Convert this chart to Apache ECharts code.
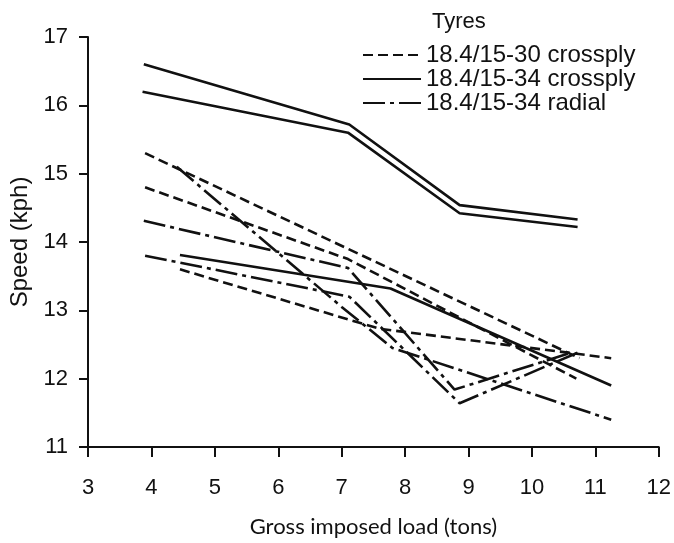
<!DOCTYPE html>
<html>
<head>
<meta charset="utf-8">
<script src="https://cdn.jsdelivr.net/npm/echarts@6/dist/echarts.min.js"></script>
<style>
html,body{margin:0;padding:0;background:#fff;}
#chart{width:674px;height:543px;}
</style>
</head>
<body>
<div id="chart"></div>
<script>
// Tyre types (legend names)
const tyreNames = ['18.4/15-30 crossply', '18.4/15-34 crossply', '18.4/15-34 radial'];

// Axis ticks
const xTicks = [3, 4, 5, 6, 7, 8, 9, 10, 11, 12];
const yTicks = [11, 12, 13, 14, 15, 16, 17];

// 18.4/15-30 crossply (dashed) — [load (tons), speed (kph)]
const cross30_a = [[3.9, 15.3], [7.1, 13.9], [10.75, 12.3]];
const cross30_b = [[3.9, 14.8], [7.1, 13.75], [10.7, 12.0]];
const cross30_c = [[4.45, 13.6], [7.6, 12.73], [11.25, 12.3]];

// 18.4/15-34 crossply (solid)
const cross34_a = [[3.88, 16.6], [7.12, 15.72], [8.86, 14.54], [10.72, 14.33]];
const cross34_b = [[3.86, 16.2], [7.1, 15.6], [8.86, 14.42], [10.72, 14.22]];
const cross34_c = [[4.45, 13.81], [7.77, 13.32], [11.25, 11.9]];

// 18.4/15-34 radial (dash-dot)
const radial_a = [[3.88, 14.31], [7.1, 13.62], [8.78, 11.84], [10.62, 12.38]];
const radial_b = [[4.4, 15.1], [7.0, 13.05], [7.8, 12.45], [11.25, 11.4]];
const radial_c = [[3.9, 13.8], [7.12, 13.2], [8.86, 11.64], [10.72, 12.38]];

const dashes = {
  '18.4/15-30 crossply': [10, 5],
  '18.4/15-34 crossply': 'solid',
  '18.4/15-34 radial': [22, 5, 4, 5]
};

const groups = [
  [tyreNames[0], [cross30_a, cross30_b, cross30_c]],
  [tyreNames[1], [cross34_a, cross34_b, cross34_c]],
  [tyreNames[2], [radial_a, radial_b, radial_c]]
];

const series = [];
groups.forEach(([name, lines]) => {
  lines.forEach(d => {
    series.push({
      name: name,
      type: 'line',
      data: d,
      symbol: 'none',
      silent: true,
      animation: false,
      itemStyle: { color: '#111' },
      lineStyle: { color: '#111', width: 2.6, type: dashes[name] }
    });
  });
});

const FONT = 'Liberation Sans';
const chart = echarts.init(document.getElementById('chart'));
chart.setOption({
  backgroundColor: '#fff',
  animation: false,
  title: {
    text: 'Tyres', left: 427, top: 6,
    textStyle: { fontFamily: FONT, fontSize: 22, fontWeight: 'normal', color: '#111' }
  },
  legend: {
    data: tyreNames,
    orient: 'vertical',
    left: 362, top: 43,
    padding: 0,
    itemWidth: 58, itemHeight: 14, itemGap: 0,
    selectedMode: false,
    itemStyle: { opacity: 0 },
    textStyle: { fontFamily: FONT, fontSize: 24, color: '#111' }
  },
  grid: { left: 87, right: 9, top: 37, bottom: 96, containLabel: false },
  xAxis: {
    type: 'value', min: xTicks[0], max: xTicks[xTicks.length - 1], interval: 1,
    name: 'Gross imposed load (tons)', nameLocation: 'middle', nameGap: 69,
    nameTextStyle: { fontFamily: 'Lato', fontSize: 22, color: '#111' },
    axisLine: { lineStyle: { color: '#111', width: 2 } },
    axisTick: { show: true, length: 10, lineStyle: { color: '#111', width: 2 } },
    axisLabel: { fontFamily: FONT, fontSize: 22, color: '#111', margin: 30 },
    splitLine: { show: false }
  },
  yAxis: {
    type: 'value', min: yTicks[0], max: yTicks[yTicks.length - 1], interval: 1,
    name: 'Speed (kph)', nameLocation: 'middle', nameGap: 56, nameRotate: 90,
    nameTextStyle: { fontFamily: FONT, fontSize: 24, color: '#111' },
    axisLine: { show: true, lineStyle: { color: '#111', width: 2 } },
    axisTick: { show: true, length: 9, lineStyle: { color: '#111', width: 2 } },
    axisLabel: { fontFamily: FONT, fontSize: 22, color: '#111', margin: 20 },
    splitLine: { show: false }
  },
  series: series
});
</script>
</body>
</html>
